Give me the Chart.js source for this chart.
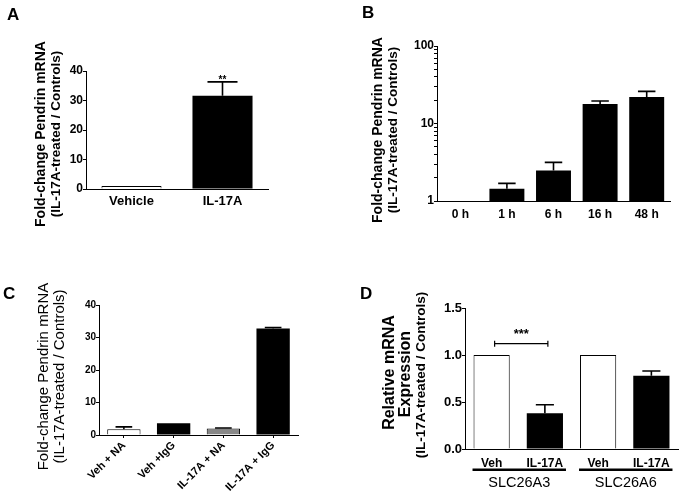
<!DOCTYPE html>
<html><head><meta charset="utf-8">
<script src="https://cdn.jsdelivr.net/npm/chart.js@4/dist/chart.umd.min.js"></script>
<style>
html,body{margin:0;padding:0;background:#fff;}
#wrap{position:relative;width:681px;height:492px;overflow:hidden;background:#fff;}
canvas{position:absolute;}
</style></head><body>
<div id="wrap">
<canvas id="cA" width="340" height="240" style="left:0;top:0"></canvas>
<canvas id="cB" width="341" height="240" style="left:340px;top:0"></canvas>
<canvas id="cC" width="340" height="252" style="left:0;top:240px"></canvas>
<canvas id="cD" width="341" height="252" style="left:340px;top:240px"></canvas>
</div>
<script>
// ---------- Panel A ----------
const catsA = ['Vehicle', 'IL-17A'];
const valsA = [1, 31.6];
const errA = [null, 36.3];
const ticksA = [0, 10, 20, 30, 40];
const sigA = '**';
// ---------- Panel B ----------
const catsB = ['0 h', '1 h', '6 h', '16 h', '48 h'];
const valsB = [1, 1.44, 2.48, 17.9, 22.0];
const errB = [null, 1.69, 3.15, 19.5, 26.0];
const majorTicksB = [1, 10, 100];
// ---------- Panel C ----------
const catsC = ['Veh + NA', 'Veh +IgG', 'IL-17A + NA', 'IL-17A + IgG'];
const valsC = [1.8, 3.6, 2.0, 32.8];
const errC = [2.5, null, 2.15, 33.1];
const ticksC = [0, 10, 20, 30, 40];
// ---------- Panel D ----------
const catsD = ['Veh', 'IL-17A', 'Veh', 'IL-17A'];
const groupsD = ['SLC26A3', 'SLC26A6'];
const valsD = [1.0, 0.38, 1.0, 0.78];
const errD = [null, 0.47, null, 0.83];
const ticksD = [0, 0.5, 1.0, 1.5];
const tickLabelsD = ['0.0', '0.5', '1.0', '1.5'];
const sigD = {label: '***', value: 1.12};
// ---------- Titles ----------
const titleAB = ['Fold-change Pendrin mRNA', '(IL-17A-treated / Controls)'];
const titleD = ['Relative mRNA', 'Expression', '(IL-17A-treated / Controls)'];

const FONT = "'Liberation Sans', Arial, Helvetica, sans-serif";
Chart.defaults.color = '#000';
Chart.defaults.font.family = FONT;

function minorLogTicks(majors) {
  const out = [];
  for (let d = 0; d < majors.length - 1; d++) {
    for (let k = 1; k <= 9; k++) out.push(k * majors[d]);
  }
  out.push(majors[majors.length - 1]);
  return out;
}

function annot(o) {
  return {
    id: 'annot' + o.letter,
    afterDraw(chart) {
      const ctx = chart.ctx, meta = chart.getDatasetMeta(0), ys = chart.scales.y, ca = chart.chartArea;
      ctx.save();
      ctx.strokeStyle = '#000'; ctx.fillStyle = '#000'; ctx.lineWidth = 1.6;
      o.errs.forEach((e, i) => {
        if (e == null) return;
        const b = meta.data[i];
        const yt = ys.getPixelForValue(e);
        const hw = b.width / 4;
        ctx.beginPath();
        ctx.moveTo(b.x, b.y); ctx.lineTo(b.x, yt);
        ctx.moveTo(b.x - hw, yt); ctx.lineTo(b.x + hw, yt);
        ctx.stroke();
      });
      o.titles.forEach(t => {
        ctx.save();
        ctx.font = t.font;
        ctx.translate(t.x, t.y);
        ctx.rotate(-Math.PI / 2);
        ctx.textAlign = 'center'; ctx.textBaseline = 'alphabetic';
        ctx.fillText(t.text, 0, 0);
        ctx.restore();
      });
      ctx.font = 'bold 17px ' + FONT;
      ctx.textAlign = 'left'; ctx.textBaseline = 'alphabetic';
      ctx.fillText(o.letter, o.lx, o.ly);
      if (o.extra) o.extra(chart, ctx, meta, ys, ca);
      ctx.restore();
    }
  };
}

function makeChart(id, o) {
  return new Chart(document.getElementById(id), {
    type: 'bar',
    data: {
      labels: o.cats,
      datasets: [{
        data: o.vals,
        backgroundColor: o.colors,
        borderColor: '#000',
        borderWidth: o.bw,
        barPercentage: o.barPct,
        categoryPercentage: 1
      }]
    },
    options: {
      responsive: false, animation: false, devicePixelRatio: 1,
      layout: {padding: o.pad},
      plugins: {legend: {display: false}, tooltip: {enabled: false}},
      scales: {
        x: {
          afterFit: s => { s.height = o.xH; },
          ticks: {font: o.xFont, color: '#000', padding: o.xPad, autoSkip: false,
                  maxRotation: o.xRot || 0, minRotation: o.xRot || 0},
          grid: {display: !!o.xTicks, offset: false, drawOnChartArea: false, drawTicks: true, tickLength: 3, color: '#000'},
          border: {display: true, color: '#000', width: 1}
        },
        y: {
          type: o.log ? 'logarithmic' : 'linear',
          min: o.min, max: o.max,
          afterFit: s => { s.width = o.yW; },
          afterBuildTicks: s => { s.ticks = o.tickVals.map(v => ({value: v})); },
          ticks: {font: o.yFont, color: '#000', padding: 0, autoSkip: false, callback: o.yLabel},
          grid: {display: true, drawOnChartArea: false, drawTicks: true, tickLength: 3, color: '#000'},
          border: {display: true, color: '#000', width: 1}
        }
      }
    },
    plugins: [annot(o)]
  });
}

// Panel A
makeChart('cA', {
  cats: catsA, vals: valsA, errs: errA,
  colors: ['#ffffff', '#000000'], bw: [1, 0], barPct: 0.66,
  pad: {left: 0, top: 71, right: 72, bottom: 0}, yW: 86, xH: 51,
  xFont: {size: 13, weight: 'bold', family: FONT}, xPad: 2,
  yFont: {size: 12, weight: 'bold', family: FONT},
  min: 0, max: 40, tickVals: ticksA, yLabel: v => String(v),
  letter: 'A', lx: 7, ly: 19.5,
  titles: [
    {text: titleAB[0], font: 'bold 14px ' + FONT, x: 45, y: 134},
    {text: titleAB[1], font: 'bold 13.5px ' + FONT, x: 59.5, y: 134}
  ],
  extra: (chart, ctx, meta, ys) => {
    const b = meta.data[1];
    ctx.font = 'bold 10px ' + FONT; ctx.textAlign = 'center';
    ctx.fillText(sigA, b.x, ys.getPixelForValue(errA[1]) + 1);
  }
});

// Panel B
makeChart('cB', {
  cats: catsB, vals: valsB, errs: errB,
  colors: '#000000', bw: 0, barPct: 0.75,
  pad: {left: 0, top: 46, right: 11, bottom: 0}, yW: 97, xH: 39,
  xFont: {size: 12, weight: 'bold', family: FONT}, xPad: 3,
  yFont: {size: 12, weight: 'bold', family: FONT},
  log: true, min: 1, max: 100, tickVals: minorLogTicks(majorTicksB),
  yLabel: v => majorTicksB.includes(v) ? String(v) : '',
  letter: 'B', lx: 22, ly: 17.5,
  titles: [
    {text: titleAB[0], font: 'bold 14px ' + FONT, x: 42, y: 130},
    {text: titleAB[1], font: 'bold 13.5px ' + FONT, x: 56.5, y: 130}
  ]
});

// Panel C
makeChart('cC', {
  cats: catsC, vals: valsC, errs: errC,
  colors: ['#ffffff', '#000000', '#888888', '#000000'], bw: [1, 0, 1, 0], barPct: 0.67,
  pad: {left: 0, top: 65, right: 42, bottom: 0}, yW: 99, xH: 57,
  xFont: {size: 11, weight: 'bold', family: FONT}, xPad: 1, xRot: 45, xTicks: true,
  yFont: {size: 10, weight: 'bold', family: FONT},
  min: 0, max: 40, tickVals: ticksC, yLabel: v => String(v),
  letter: 'C', lx: 3, ly: 59,
  titles: [
    {text: titleAB[0], font: '15px ' + FONT, x: 47.7, y: 136.5},
    {text: titleAB[1], font: '15px ' + FONT, x: 64, y: 136.5}
  ]
});

// Panel D
makeChart('cD', {
  cats: catsD, vals: valsD, errs: errD,
  colors: ['#ffffff', '#000000', '#ffffff', '#000000'], bw: [1, 0, 1, 0], barPct: 0.68,
  pad: {left: 0, top: 68, right: 3, bottom: 0}, yW: 125, xH: 43,
  xFont: {size: 12, weight: 'bold', family: FONT}, xPad: 4,
  yFont: {size: 13, weight: 'bold', family: FONT},
  min: 0, max: 1.5, tickVals: ticksD, yLabel: v => tickLabelsD[ticksD.indexOf(v)],
  letter: 'D', lx: 20, ly: 58.5,
  titles: [
    {text: titleD[0], font: 'bold 16px ' + FONT, x: 53.5, y: 132.5},
    {text: titleD[1], font: 'bold 16px ' + FONT, x: 69.5, y: 134},
    {text: titleD[2], font: 'bold 13.5px ' + FONT, x: 85, y: 135}
  ],
  extra: (chart, ctx, meta, ys, ca) => {
    // group bars and labels
    groupsD.forEach((g, gi) => {
      const b0 = meta.data[gi * 2], b1 = meta.data[gi * 2 + 1];
      const x0 = b0.x - b0.width / 2 - 1, x1 = b1.x + b1.width / 2 + 3;
      ctx.fillRect(x0, ca.bottom + 19.5, x1 - x0, 2.5);
      ctx.font = '14.5px ' + FONT; ctx.textAlign = 'center'; ctx.textBaseline = 'alphabetic';
      ctx.fillText(g, (x0 + x1) / 2, ca.bottom + 37.5);
    });
    // significance bracket
    const y = ys.getPixelForValue(sigD.value);
    const xa = meta.data[0].x + 3, xb = meta.data[1].x + 3;
    ctx.lineWidth = 1.2;
    ctx.beginPath();
    ctx.moveTo(xa, y); ctx.lineTo(xb, y);
    ctx.moveTo(xa, y - 3); ctx.lineTo(xa, y + 3);
    ctx.moveTo(xb, y - 3); ctx.lineTo(xb, y + 3);
    ctx.stroke();
    ctx.font = 'bold 13px ' + FONT; ctx.textAlign = 'center';
    ctx.fillText(sigD.label, (xa + xb) / 2, y - 6);
  }
});
</script>
</body></html>
